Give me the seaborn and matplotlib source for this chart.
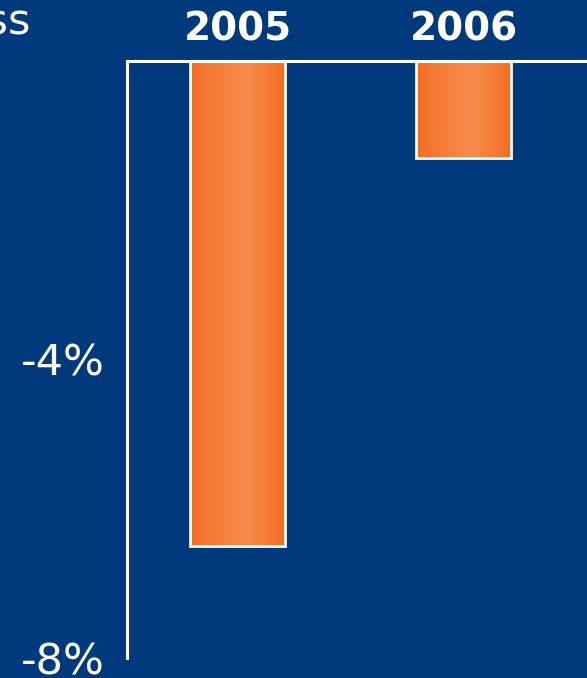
import numpy as np
import matplotlib
matplotlib.use("Agg")
import matplotlib.pyplot as plt
from matplotlib.colors import LinearSegmentedColormap
import pandas as pd
import seaborn as sb

# chart values (percent change)
years = ["2005", "2006"]
change = [-6.5, -1.3]
ytick_vals = [-4, -8]
ytick_labels = ["-4%", "-8%"]

bg = "#003a7c"
sb.set_style("white")
plt.rcParams["font.family"] = ["DejaVu Sans"]

data = pd.DataFrame({"year": years, "change": change})

fig = plt.figure(figsize=(5.87, 6.78), dpi=100, facecolor=bg)
ax = fig.add_axes([127 / 587, 1 - 658 / 678, 1 - 127 / 587, (658 - 61) / 678])
ax.set_facecolor(bg)

sb.barplot(data=data, x="year", y="change", ax=ax, width=0.42,
           color="#f47a35", edgecolor="white", linewidth=2)

# horizontal orange gradient inside each bar
grad = LinearSegmentedColormap.from_list(
    "bar", [(0, "#f36b1e"), (0.15, "#f47630"), (0.58, "#f78c4e"),
            (0.8, "#f57d38"), (1, "#f36c1f")])
g = np.linspace(0, 1, 256).reshape(1, -1)
for p in ax.patches:
    x0, y0 = p.get_x(), p.get_y()
    w, h = p.get_width(), p.get_height()
    im = ax.imshow(g, cmap=grad, aspect="auto", zorder=p.get_zorder(),
                   extent=[x0, x0 + w, y0, y0 + h])
    im.set_clip_path(p)
    p.set_facecolor("none")
    p.set_zorder(p.get_zorder() + 1)

ax.set_xlim(-0.489, 1.546)
ax.set_ylim(-8, 0)
ax.set_yticks(ytick_vals)
ax.set_yticklabels(ytick_labels, color="white", fontsize=31)
ax.xaxis.tick_top()
ax.set_xticks([0, 1])
ax.set_xticklabels(years, color="white", fontsize=28, fontweight="bold")
ax.tick_params(length=0, pad=9)
ax.tick_params(axis="y", pad=16)
ax.set_xlabel("")
ax.set_ylabel("")

for s in ["right", "bottom"]:
    ax.spines[s].set_visible(False)
for s in ["left", "top"]:
    ax.spines[s].set_color("white")
    ax.spines[s].set_linewidth(2.2)

fig.text(31 / 587, 1 - 22 / 678, "Loss", color="white", fontsize=31,
         ha="right", va="center")

fig.savefig("out.png", dpi=100, facecolor=bg)
